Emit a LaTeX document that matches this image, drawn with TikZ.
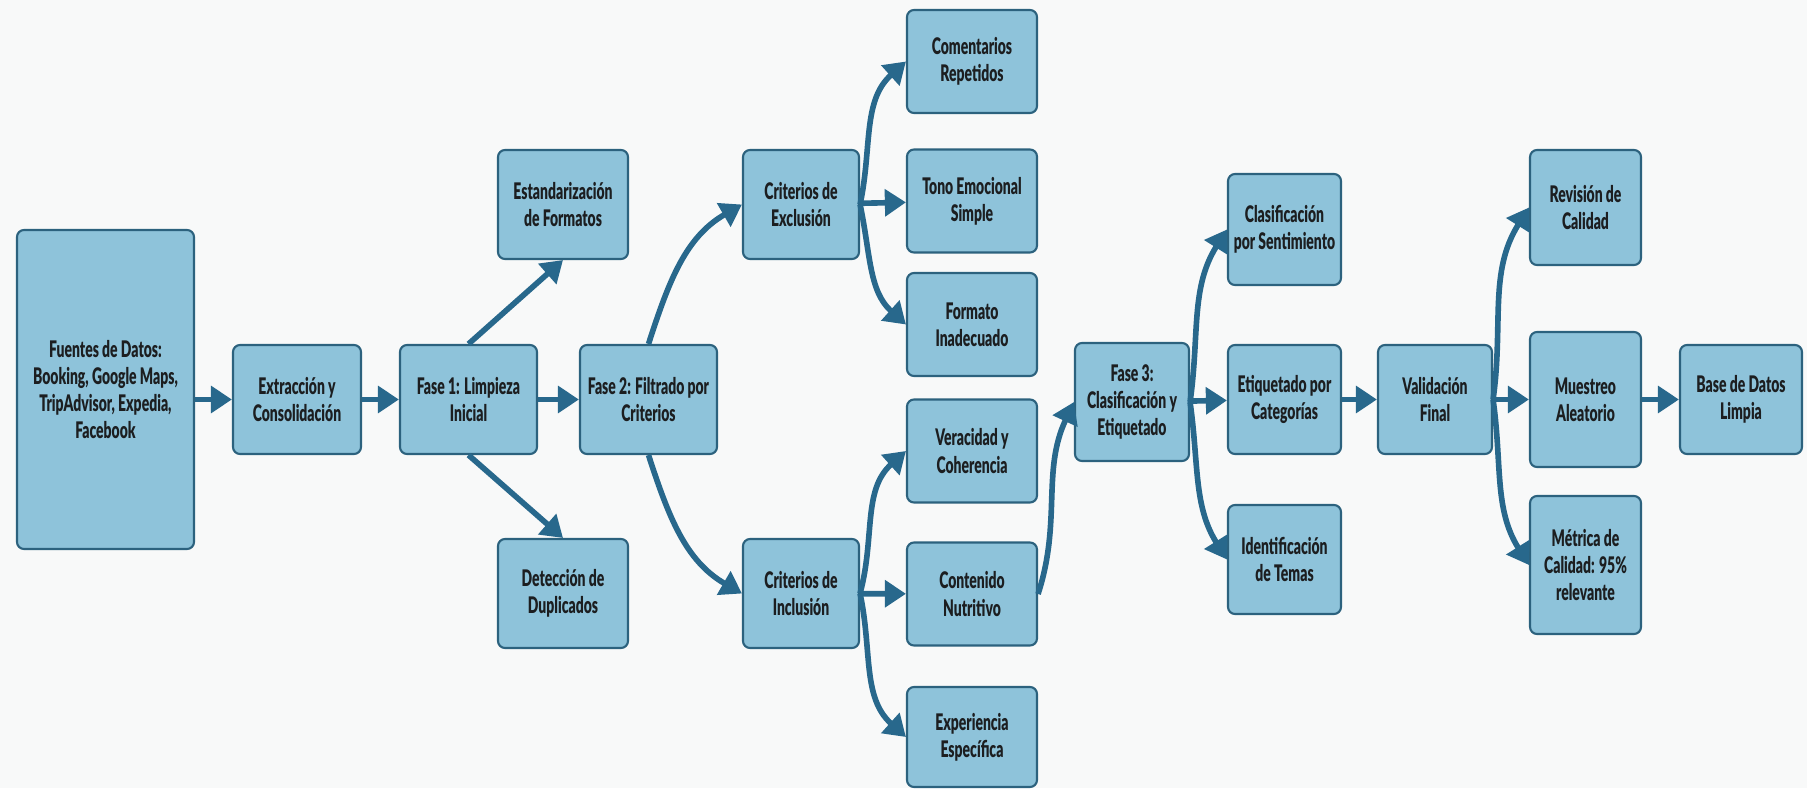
\documentclass[tikz,border=0pt]{standalone}
\usepackage{fontspec}
\setmainfont{Lato}[FakeStretch=0.61, BoldFont={Lato Black}]
\usepackage{tikz}
\usetikzlibrary{arrows.meta}

\definecolor{boxfill}{RGB}{142,195,218}
\definecolor{boxline}{RGB}{44,98,126}
\definecolor{arrowc}{RGB}{40,104,140}
\definecolor{ink}{RGB}{28,30,32}
\definecolor{paper}{RGB}{248,249,249}

\begin{document}
\begin{tikzpicture}[
    font=\bfseries\fontsize{13}{15.5}\selectfont,
    box/.style={draw=boxline, fill=boxfill, rounded corners=4pt, line width=1.2pt,
      align=center, inner sep=2pt, text=ink},
    flow/.style={draw=arrowc, line width=3.2pt, -{Triangle[length=12pt,width=15pt]}}
  ]

    \fill[paper] (0,0) rectangle (36.14,-15.76);

    % origen y fase 1
    \node[box,minimum width=3.54cm,minimum height=6.38cm] (src) at (2.11,-7.79) {Fuentes de Datos:\\Booking, Google Maps,\\TripAdvisor, Expedia,\\Facebook};
    \node[box,minimum width=2.56cm,minimum height=2.18cm] (ext) at (5.94,-7.99) {Extracción y\\Consolidación};
    \node[box,minimum width=2.74cm,minimum height=2.18cm] (f1) at (9.37,-7.99) {Fase 1: Limpieza\\Inicial};
    \node[box,minimum width=2.6cm,minimum height=2.18cm] (std) at (11.26,-4.09) {Estandarización\\de Formatos};
    \node[box,minimum width=2.6cm,minimum height=2.18cm] (dup) at (11.26,-11.87) {Detección de\\Duplicados};

    % fase 2
    \node[box,minimum width=2.74cm,minimum height=2.18cm] (f2) at (12.97,-7.99) {Fase 2: Filtrado por\\Criterios};
    \node[box,minimum width=2.32cm,minimum height=2.18cm] (exc) at (16.02,-4.09) {Criterios de\\Exclusión};
    \node[box,minimum width=2.32cm,minimum height=2.18cm] (inc) at (16.02,-11.87) {Criterios de\\Inclusión};
    \node[box,minimum width=2.6cm,minimum height=2.06cm] (rep) at (19.44,-1.23) {Comentarios\\Repetidos};
    \node[box,minimum width=2.6cm,minimum height=2.06cm] (emo) at (19.44,-4.02) {Tono Emocional\\Simple};
    \node[box,minimum width=2.6cm,minimum height=2.06cm] (fmt) at (19.44,-6.49) {Formato\\Inadecuado};
    \node[box,minimum width=2.6cm,minimum height=2.06cm] (ver) at (19.44,-9.02) {Veracidad y\\Coherencia};
    \node[box,minimum width=2.6cm,minimum height=2.06cm] (nut) at (19.44,-11.88) {Contenido\\Nutritivo};
    \node[box,minimum width=2.6cm,minimum height=2.0cm] (exp) at (19.44,-14.74) {Experiencia\\Específica};

    % fase 3
    \node[box,minimum width=2.28cm,minimum height=2.36cm] (f3) at (22.64,-8.04) {Fase 3:\\Clasificación y\\Etiquetado};
    \node[box,minimum width=2.26cm,minimum height=2.22cm] (sen) at (25.69,-4.59) {Clasificación\\por Sentimiento};
    \node[box,minimum width=2.26cm,minimum height=2.18cm] (cat) at (25.69,-7.99) {Etiquetado por\\Categorías};
    \node[box,minimum width=2.26cm,minimum height=2.18cm] (tem) at (25.69,-11.19) {Identificación\\de Temas};

    % validacion
    \node[box,minimum width=2.28cm,minimum height=2.18cm] (val) at (28.70,-7.99) {Validación\\Final};
    \node[box,minimum width=2.22cm,minimum height=2.3cm] (rev) at (31.71,-4.15) {Revisión de\\Calidad};
    \node[box,minimum width=2.22cm,minimum height=2.7cm] (mue) at (31.71,-7.99) {Muestreo\\Aleatorio};
    \node[box,minimum width=2.22cm,minimum height=2.76cm] (met) at (31.71,-11.3) {Métrica de\\Calidad: 95\%\\relevante};
    \node[box,minimum width=2.44cm,minimum height=2.18cm] (db) at (34.82,-7.99) {Base de Datos\\Limpia};

    \path (src.east |- ext) edge[flow] (ext);
    \path (ext) edge[flow] (f1);
    \path (f1) edge[flow] (f2);
    \path (f1.north) edge[flow] (std.south);
    \path (f1.south) edge[flow] (dup.north);

    \path (f2.north) edge[flow,out=72,in=210] (exc.west);
    \path (f2.south) edge[flow,out=-72,in=150] (inc.west);
    \path (exc.east) edge[flow,out=78,in=222] (rep.west);
    \path (exc) edge[flow] (emo);
    \path (exc.east) edge[flow,out=-78,in=138] (fmt.west);
    \path (inc.east) edge[flow,out=75,in=222] (ver.west);
    \path (inc) edge[flow] (nut);
    \path (inc.east) edge[flow,out=-78,in=138] (exp.west);

    \path (nut.east) edge[flow,out=72,in=245] (f3.west);
    \path (f3.east) edge[flow,out=82,in=238] (sen.west);
    \path (f3) edge[flow] (cat);
    \path (f3.east) edge[flow,out=-82,in=122] (tem.west);
    \path (cat) edge[flow] (val);

    \path (val.east) edge[flow,out=82,in=238] (rev.west);
    \path (val) edge[flow] (mue);
    \path (val.east) edge[flow,out=-82,in=122] (met.west);
    \path (mue) edge[flow] (db);

\end{tikzpicture}
\end{document}
